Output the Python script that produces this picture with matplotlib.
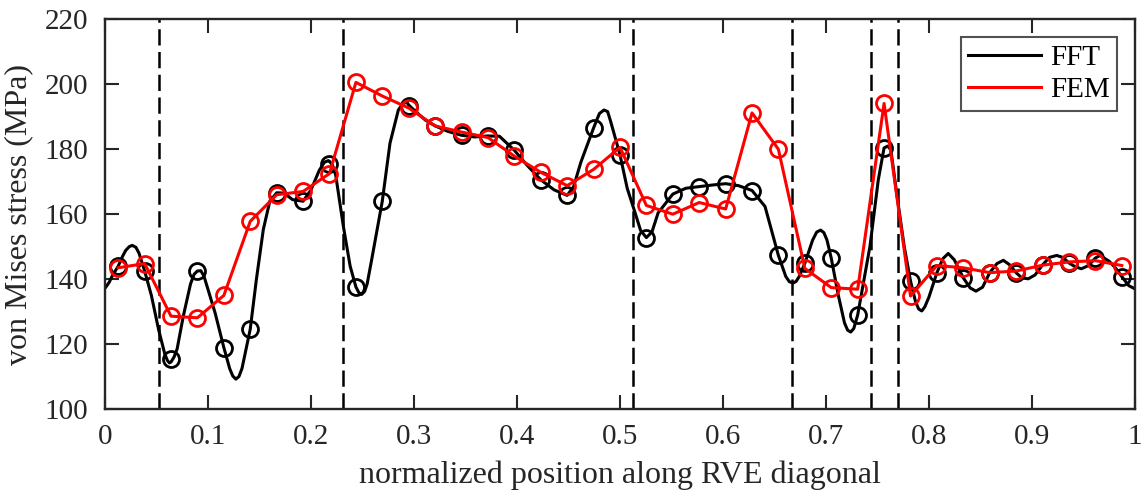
import matplotlib
matplotlib.use("Agg")
import matplotlib.pyplot as plt
import numpy as np

plt.rcParams['font.family'] = ['Liberation Serif', 'DejaVu Serif']

# sample positions (39 points along the diagonal)
x_samples = [0.0128, 0.0385, 0.0641, 0.0897, 0.1154, 0.1410, 0.1667, 0.1923, 0.2179, 0.2436,
             0.2692, 0.2949, 0.3205, 0.3462, 0.3718, 0.3974, 0.4231, 0.4487, 0.4744, 0.5000,
             0.5256, 0.5513, 0.5769, 0.6026, 0.6282, 0.6538, 0.6795, 0.7051, 0.7308, 0.7564,
             0.7821, 0.8077, 0.8333, 0.8590, 0.8846, 0.9103, 0.9359, 0.9615, 0.9872]

fft_markers = [144.0, 142.5, 115.3, 142.5, 118.9, 124.6, 166.6, 164.0, 175.5, 137.6,
               164.0, 193.4, 187.2, 184.3, 184.1, 179.7, 170.6, 165.8, 186.6, 178.3,
               152.8, 166.2, 168.5, 169.4, 167.3, 147.3, 144.9, 146.5, 129.0, 180.4,
               139.4, 142.0, 140.3, 142.0, 142.0, 144.4, 145.0, 146.5, 140.8]

fem_values = [143.5, 144.8, 128.6, 128.1, 135.0, 157.8, 166.0, 167.0, 172.5, 200.6,
              196.4, 192.7, 187.2, 185.3, 183.6, 177.9, 172.9, 168.8, 173.8, 180.6,
              162.7, 160.0, 163.6, 161.6, 191.2, 180.0, 143.3, 137.4, 136.9, 194.1,
              134.8, 144.2, 143.5, 142.0, 142.5, 144.3, 145.3, 145.7, 144.2]

# continuous FFT profile
fft_curve_x = [0.000, 0.004, 0.007, 0.0128, 0.017, 0.020, 0.0235, 0.0265, 0.030, 0.033,
               0.0385, 0.045, 0.052, 0.058, 0.0605, 0.0625, 0.0641, 0.067, 0.070, 0.076,
               0.083, 0.0865, 0.0897, 0.093, 0.096, 0.1068, 0.1154, 0.121, 0.124, 0.127,
               0.130, 0.133, 0.1410, 0.147, 0.1537, 0.160, 0.1667, 0.174, 0.182, 0.1923,
               0.200, 0.208, 0.213, 0.2168, 0.2179, 0.221, 0.224, 0.2314, 0.238, 0.2436,
               0.2465, 0.2492, 0.252, 0.2545, 0.2589, 0.2692, 0.2767, 0.2848, 0.289, 0.2930,
               0.2949, 0.302, 0.311, 0.3205, 0.333, 0.3462, 0.359, 0.3718, 0.383, 0.3974,
               0.410, 0.4231, 0.436, 0.4487, 0.455, 0.462, 0.4744, 0.480, 0.4845, 0.488,
               0.491, 0.5000, 0.507, 0.5146, 0.520, 0.5256, 0.531, 0.537, 0.5513, 0.564,
               0.5769, 0.590, 0.6026, 0.615, 0.6282, 0.6408, 0.6538, 0.661, 0.6645, 0.668,
               0.671, 0.674, 0.6795, 0.687, 0.691, 0.6948, 0.698, 0.701, 0.7051, 0.712,
               0.718, 0.721, 0.724, 0.727, 0.7308, 0.7427, 0.7508, 0.7564, 0.760, 0.763,
               0.7686, 0.776, 0.7821, 0.787, 0.790, 0.793, 0.796, 0.800, 0.8077, 0.8135,
               0.8187, 0.8245, 0.8333, 0.840, 0.8456, 0.852, 0.8590, 0.866, 0.8722, 0.878,
               0.8846, 0.890, 0.8964, 0.903, 0.9103, 0.917, 0.924, 0.930, 0.9359, 0.942,
               0.948, 0.955, 0.9615, 0.966, 0.975, 0.981, 0.9872, 0.994, 1.000]
fft_curve_y = [137.2, 139.0, 141.0, 144.0, 147.0, 148.8, 150.0, 150.4, 149.8, 148.0,
               142.5, 135.0, 124.5, 117.0, 115.0, 114.2, 114.5, 116.0, 118.5, 128.6,
               138.5, 141.5, 142.5, 142.6, 141.0, 129.7, 118.9, 112.5, 110.2, 109.2,
               110.0, 112.5, 124.6, 140.0, 155.3, 164.0, 166.6, 166.5, 164.5, 164.0,
               167.5, 173.5, 176.0, 176.5, 176.3, 175.0, 172.0, 156.3, 144.0, 137.6,
               135.8, 135.3, 136.2, 138.5, 146.0, 164.0, 181.9, 192.1, 194.0, 194.5,
               193.6, 191.5, 189.0, 187.2, 185.5, 184.3, 183.8, 184.1, 184.0, 179.7,
               175.0, 170.6, 167.5, 165.8, 168.5, 176.0, 186.6, 191.0, 192.1, 191.6,
               188.5, 178.3, 168.0, 160.5, 155.0, 152.8, 154.5, 160.4, 166.2, 168.0,
               168.5, 169.0, 169.4, 168.8, 167.3, 162.4, 147.3, 140.8, 139.2, 138.8,
               139.3, 140.8, 144.9, 152.0, 154.5, 155.1, 154.3, 152.0, 146.5, 135.0,
               126.5, 124.3, 123.7, 124.8, 129.0, 150.1, 170.6, 180.4, 181.0, 179.8,
               166.5, 150.0, 139.4, 133.0, 130.8, 130.2, 131.5, 134.5, 142.0, 146.3,
               147.9, 146.0, 140.4, 137.3, 136.3, 137.5, 142.0, 144.8, 145.8, 144.5,
               142.0, 140.4, 140.1, 141.3, 144.4, 146.7, 147.3, 146.7, 145.0, 143.8,
               143.2, 144.2, 146.5, 147.3, 145.5, 143.5, 140.8, 138.0, 137.0]

# grain boundaries (dashed lines)
boundaries = [0.052, 0.231, 0.513, 0.667, 0.744, 0.770]

x_ticks = [0, 0.1, 0.2, 0.3, 0.4, 0.5, 0.6, 0.7, 0.8, 0.9, 1]
x_ticklabels = ['0', '0.1', '0.2', '0.3', '0.4', '0.5', '0.6', '0.7', '0.8', '0.9', '1']
y_ticks = [100, 120, 140, 160, 180, 200, 220]

fig = plt.figure(figsize=(11.44, 4.97), dpi=100)
ax = fig.add_axes([0.0918, 0.177, 0.9003, 0.784])

for b in boundaries:
    ax.axvline(b, color='black', linestyle=(0, (6.5, 2.6)), linewidth=1.8, zorder=1)

ax.plot(fft_curve_x, fft_curve_y, color='black', linewidth=2.2, zorder=2, label='FFT',
        solid_joinstyle='round')
ax.plot(x_samples, fft_markers, linestyle='none', marker='o', markersize=11.5,
        markerfacecolor='none', markeredgecolor='black', markeredgewidth=2.0, zorder=3)
ax.plot(x_samples, fem_values, color='red', linewidth=2.2, marker='o', markersize=11.5,
        markerfacecolor='none', markeredgecolor='red', markeredgewidth=2.0, zorder=4)
ax.plot([], [], color='red', linewidth=2.2, label='FEM')

ax.set_xlim(0, 1)
ax.set_ylim(100, 220)
ax.set_xticks(x_ticks)
ax.set_xticklabels(x_ticklabels)
ax.set_yticks(y_ticks)
ax.tick_params(direction='in', top=True, right=True, length=10, width=1.5,
               labelsize=21, colors='#262626', pad=11)
ax.tick_params(axis='y', pad=12)
for s in ax.spines.values():
    s.set_linewidth(1.7)
    s.set_color('#262626')

ax.set_xlabel('normalized position along RVE diagonal', fontsize=23, color='#262626', labelpad=7)
ax.set_ylabel('von Mises stress (MPa)', fontsize=23, color='#262626', labelpad=8)

handles, labels = ax.get_legend_handles_labels()
leg = ax.legend(handles, labels, loc='upper right', fontsize=21, frameon=True, fancybox=False,
                edgecolor='#262626', handlelength=2.5, handletextpad=0.3, borderpad=0.25,
                labelspacing=0.2, borderaxespad=0.0,
                bbox_to_anchor=(0.9825, 0.954))
leg.get_frame().set_linewidth(1.5)

fig.savefig('out.png', dpi=100)
